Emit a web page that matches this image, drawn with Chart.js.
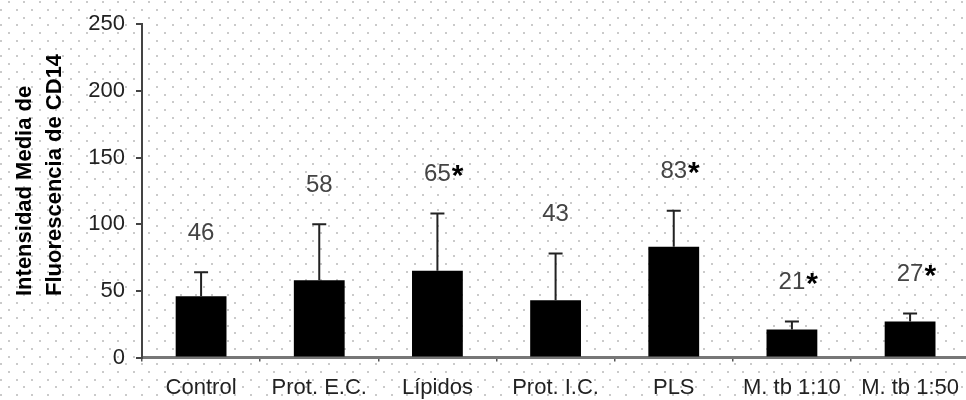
<!DOCTYPE html>
<html>
<head>
<meta charset="utf-8">
<script src="https://cdn.jsdelivr.net/npm/chart.js@4/dist/chart.umd.min.js"></script>
<style>
  html, body { margin: 0; padding: 0; background: #fff; overflow: hidden; }
  #wrap { width: 972px; height: 400px; }
</style>
</head>
<body>
<div id="wrap"><canvas id="c" width="972" height="400"></canvas></div>
<script>
// CD14 mean fluorescence intensity per stimulus
const categories = ['Control', 'Prot. E.C.', 'Lípidos', 'Prot. I.C.', 'PLS', 'M. tb 1:10', 'M. tb 1:50'];
const meanValues = [46, 58, 65, 43, 83, 21, 27];
const sdValues = [18, 42, 43, 35, 27, 6, 6];
const significant = [false, false, true, false, true, true, true];
const yTicks = [0, 50, 100, 150, 200, 250];
const yTitleLines = ['Intensidad Media de', 'Fluorescencia de CD14'];

const FONT = '"Liberation Sans", Arial, sans-serif';

// dotted paper background across the whole canvas
const dotBackground = {
  id: 'dotBackground',
  beforeDraw(chart) {
    const { ctx, width, height } = chart;
    ctx.save();
    ctx.fillStyle = '#ffffff';
    ctx.fillRect(0, 0, width, height);
    ctx.fillStyle = '#cacaca';
    const sx = 15.625, sy = 7.7;
    for (let r = 0; 2.3 + r * sy < height + sy; r++) {
      const y = 2.3 + r * sy;
      const off = (r % 2 === 0) ? 8.75 : 0.95;
      for (let x = off; x < width; x += sx) {
        ctx.fillRect(Math.round(x) - 1, Math.round(y) - 1, 2, 2);
      }
    }
    ctx.restore();
  }
};

// upward error bars, value labels and the rotated axis title
const annotations = {
  id: 'annotations',
  afterDatasetsDraw(chart) {
    const { ctx } = chart;
    const yScale = chart.scales.y;
    const meta = chart.getDatasetMeta(0);
    ctx.save();
    meta.data.forEach((bar, i) => {
      const x = bar.x;
      const yTop = yScale.getPixelForValue(meanValues[i]);
      const yErr = yScale.getPixelForValue(meanValues[i] + sdValues[i]);
      ctx.strokeStyle = '#222';
      ctx.lineWidth = 2;
      ctx.beginPath();
      ctx.moveTo(x, yTop);
      ctx.lineTo(x, yErr);
      ctx.moveTo(x - 7, yErr);
      ctx.lineTo(x + 7, yErr);
      ctx.stroke();

      const ly = yErr - 39;
      const txt = String(meanValues[i]);
      ctx.font = '24px ' + FONT;
      ctx.fillStyle = '#444';
      ctx.textAlign = 'center';
      ctx.textBaseline = 'middle';
      ctx.fillText(txt, x, ly);
      if (significant[i]) {
        const w = ctx.measureText(txt).width;
        ctx.font = 'bold 30px ' + FONT;
        ctx.fillStyle = '#000';
        ctx.textAlign = 'left';
        ctx.fillText('*', x + w / 2 + 1, ly + 2);
      }
    });

    ctx.font = 'bold 22px ' + FONT;
    ctx.fillStyle = '#000';
    ctx.textAlign = 'left';
    ctx.textBaseline = 'middle';
    const cx = [25, 55];
    yTitleLines.forEach((line, k) => {
      ctx.save();
      ctx.translate(cx[k], 296);
      ctx.rotate(-Math.PI / 2);
      ctx.fillText(line, 0, 0);
      ctx.restore();
    });
    ctx.restore();
  }
};

new Chart(document.getElementById('c'), {
  type: 'bar',
  data: {
    labels: categories,
    datasets: [{
      data: meanValues,
      backgroundColor: '#000',
      borderWidth: 0,
      barPercentage: 0.43,
      categoryPercentage: 1.0
    }]
  },
  options: {
    responsive: false,
    devicePixelRatio: 1,
    animation: false,
    layout: { padding: { top: 23.5, right: 0, bottom: 0, left: 0 } },
    plugins: { legend: { display: false }, tooltip: { enabled: false } },
    scales: {
      x: {
        grid: { drawOnChartArea: false, drawTicks: true, tickLength: 4, color: '#555', lineWidth: 1.5 },
        border: { display: true, color: '#777', width: 3 },
        ticks: {
          color: '#222',
          font: { family: FONT, size: 22 },
          padding: 13,
          autoSkip: false,
          maxRotation: 0
        },
        afterFit(scale) { scale.height = 42.5; }
      },
      y: {
        min: 0,
        max: 250,
        afterBuildTicks(scale) { scale.ticks = yTicks.map(v => ({ value: v })); },
        grid: { drawOnChartArea: false, drawTicks: true, tickLength: 6, color: '#444', lineWidth: 2 },
        border: { display: true, color: '#444', width: 2 },
        ticks: {
          color: '#222',
          font: { family: FONT, size: 22 },
          padding: 11
        },
        afterFit(scale) { scale.width = 142; }
      }
    }
  },
  plugins: [dotBackground, annotations]
});
</script>
</body>
</html>
